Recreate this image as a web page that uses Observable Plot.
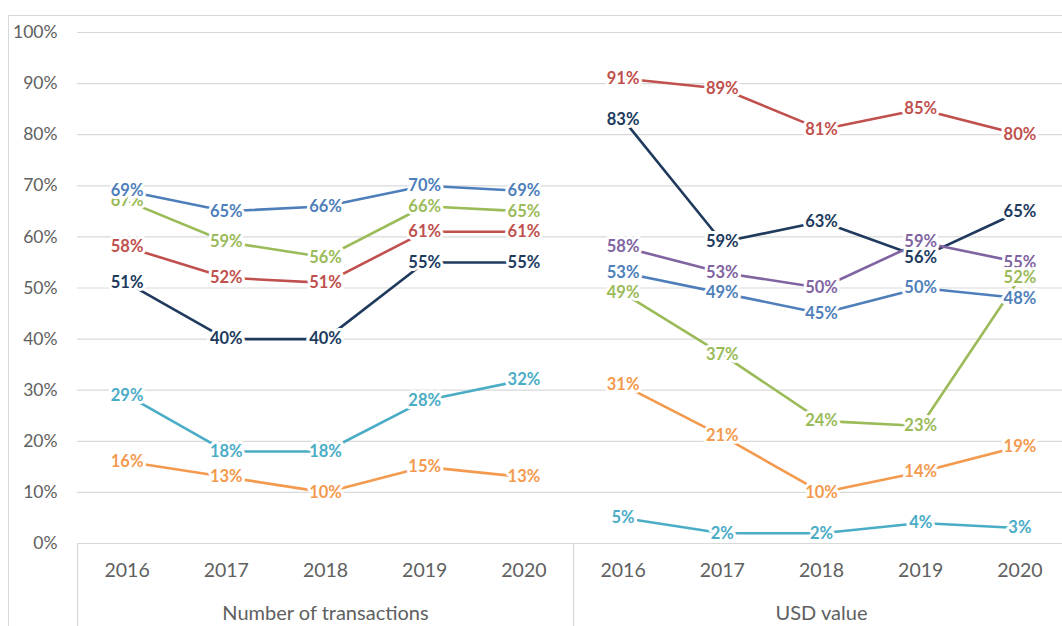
<!DOCTYPE html>
<html>
<head>
<meta charset="utf-8">
<script src="https://cdn.jsdelivr.net/npm/d3@7"></script>
<script src="https://cdn.jsdelivr.net/npm/@observablehq/plot@0.6"></script>
<style>
  html, body { margin: 0; padding: 0; background: #fff; overflow: hidden; }
  #wrap { position: relative; width: 1062px; height: 626px; }
  #frame { position: absolute; left: 8px; top: 15px; width: 1100px; height: 700px;
           border-left: 1px solid #d9d9d9; border-top: 1px solid #d9d9d9;
           pointer-events: none; z-index: 2; }
  #chart { position: absolute; left: 0; top: 0; }
</style>
</head>
<body>
<div id="wrap"><div id="chart"></div><div id="frame"></div></div>
<script>
// Categories
const years = ["2016", "2017", "2018", "2019", "2020"];
const panels = ["Number of transactions", "USD value"];
const yTicks = [0, 10, 20, 30, 40, 50, 60, 70, 80, 90, 100];

// Series keys and colours (series names are not shown in the chart)
const seriesKeys = ["S1", "S2", "S3", "S4", "S5", "S6", "S7"];
const seriesColors = ["#4f7fba", "#9bbb59", "#c0504d", "#203a5e", "#4bacc6", "#f39a4e", "#8064a2"];

// Values in %, per panel
const transactionsS1 = [69, 65, 66, 70, 69];
const transactionsS2 = [67, 59, 56, 66, 65];
const transactionsS3 = [58, 52, 51, 61, 61];
const transactionsS4 = [51, 40, 40, 55, 55];
const transactionsS5 = [29, 18, 18, 28, 32];
const transactionsS6 = [16, 13, 10, 15, 13];

const usdS1 = [53, 49, 45, 50, 48];
const usdS2 = [49, 37, 24, 23, 52];
const usdS3 = [91, 89, 81, 85, 80];
const usdS4 = [83, 59, 63, 56, 65];
const usdS5 = [5, 2, 2, 4, 3];
const usdS6 = [31, 21, 10, 14, 19];
const usdS7 = [58, 53, 50, 59, 55];

const panelSeries = [
  [["S1", transactionsS1], ["S2", transactionsS2], ["S3", transactionsS3],
   ["S4", transactionsS4], ["S5", transactionsS5], ["S6", transactionsS6]],
  [["S1", usdS1], ["S2", usdS2], ["S3", usdS3], ["S4", usdS4],
   ["S5", usdS5], ["S6", usdS6], ["S7", usdS7]]
];

const rows = [];
panelSeries.forEach((list, pi) => {
  list.forEach(([series, values]) => {
    values.forEach((v, yi) => {
      rows.push({panel: panels[pi], series, year: years[yi], idx: pi * years.length + yi, v});
    });
  });
});
// labels: first series drawn last (on top), as in the reference
const labelRows = rows.slice().reverse();

const nCat = panels.length * years.length;
const catTicks = d3.range(nCat);
const panelTicks = panels.map((p, i) => i * years.length + (years.length - 1) / 2);
const separators = d3.range(panels.length + 1).map(i => i * years.length - 0.5);

const chart = Plot.plot({
  width: 1062,
  height: 626,
  marginLeft: 77,
  marginRight: -7,
  marginTop: 32,
  marginBottom: 83,
  style: {fontFamily: "Lato, 'Open Sans', sans-serif", background: "transparent"},
  x: {type: "linear", domain: [-0.5, nCat - 0.5], axis: null},
  y: {domain: [0, 100], axis: null},
  color: {type: "ordinal", domain: seriesKeys, range: seriesColors},
  marks: [
    Plot.gridY(yTicks, {stroke: "#d9d9d9", strokeOpacity: 1, strokeWidth: 1.2}),
    Plot.ruleX(separators, {y1: 0, y2: -20, stroke: "#d9d9d9", strokeWidth: 1.2}),
    Plot.axisY(yTicks, {tickFormat: d => d + "%", tickSize: 0, tickPadding: 20,
      fontSize: 17.5, color: "#606060", label: null}),
    Plot.axisX(catTicks, {tickFormat: i => years[i % years.length], tickSize: 0,
      tickPadding: 20, fontSize: 19.5, color: "#606060", label: null}),
    Plot.axisX(panelTicks, {tickFormat: i => panels[Math.floor(i / years.length)],
      tickSize: 0, tickPadding: 62, fontSize: 20, color: "#606060", label: null}),
    Plot.line(rows, {x: "idx", y: "v", z: d => d.panel + d.series, stroke: "series",
      strokeWidth: 2.6}),
    Plot.text(labelRows, {x: "idx", y: "v", text: d => d.v + "%", fill: "series",
      stroke: "white", strokeWidth: 6, strokeLinejoin: "round",
      fontWeight: "bold", fontSize: 16.5})
  ]
});
document.getElementById("chart").appendChild(chart);
</script>
</body>
</html>
